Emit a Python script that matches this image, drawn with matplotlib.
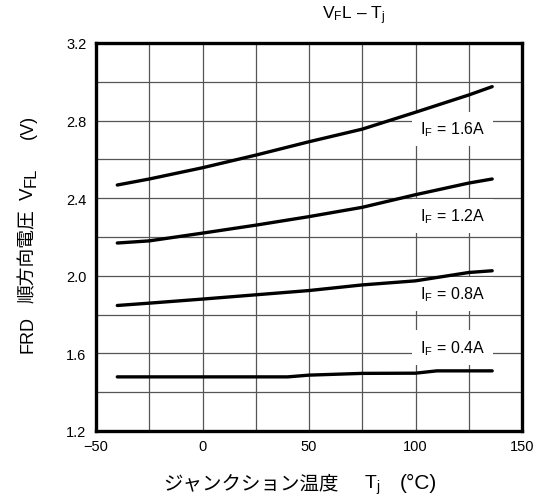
import numpy as np
import matplotlib
matplotlib.use("Agg")
import matplotlib.pyplot as plt
from matplotlib.ticker import MultipleLocator

plt.rcParams["font.family"] = ["Liberation Sans", "Noto Sans CJK JP"]
plt.rcParams["mathtext.fontset"] = "custom"
plt.rcParams["mathtext.rm"] = "Liberation Sans"
plt.rcParams["mathtext.it"] = "Liberation Sans:italic"

# Curvas V_FL x Tj para cada corrente I_F
tj = [-40, -25, 0, 25, 50, 75, 100, 125, 136]
vfl_16 = [2.468, 2.499, 2.557, 2.622, 2.691, 2.756, 2.843, 2.932, 2.975]
vfl_12 = [2.169, 2.180, 2.220, 2.261, 2.305, 2.353, 2.418, 2.478, 2.499]
vfl_08 = [1.847, 1.859, 1.880, 1.902, 1.924, 1.953, 1.974, 2.017, 2.026]
tj_04 = [-40, 40, 50, 75, 100, 110, 136]
vfl_04 = [1.479, 1.479, 1.488, 1.497, 1.498, 1.510, 1.510]

rotulos = ["I$_\\mathrm{F}$ = 1.6A", "I$_\\mathrm{F}$ = 1.2A",
           "I$_\\mathrm{F}$ = 0.8A", "I$_\\mathrm{F}$ = 0.4A"]
rotulo_y = [2.756, 2.309, 1.906, 1.631]
rotulo_x = 102

W, H = 537, 502
fig = plt.figure(figsize=(W / 100, H / 100), dpi=100)
ax = fig.add_axes([96 / W, 1 - 432 / H, 426 / W, 388 / H])

for x, y in [(tj, vfl_16), (tj, vfl_12), (tj, vfl_08), (tj_04, vfl_04)]:
    ax.plot(x, y, color="black", lw=2.4, solid_capstyle="round", zorder=4)

for txt, y in zip(rotulos, rotulo_y):
    ax.text(rotulo_x, y, txt, fontsize=11.5, va="center", ha="left", zorder=3,
            bbox=dict(boxstyle="square,pad=0.5", fc="white", ec="none"))

ax.set_xlim(-50, 150)
ax.set_ylim(1.2, 3.2)
ax.xaxis.set_minor_locator(MultipleLocator(25))
ax.yaxis.set_minor_locator(MultipleLocator(0.2))
ax.set_xticks([-50, 0, 50, 100, 150])
ax.set_xticklabels(["\u221250", "0", "50", "100", "150"])
ax.set_yticks([1.2, 1.6, 2.0, 2.4, 2.8, 3.2])
ax.set_yticklabels(["1.2", "1.6", "2.0", "2.4", "2.8", "3.2"])
ax.tick_params(which="both", length=0, labelsize=10.5)
ax.tick_params(axis="x", pad=6)
ax.tick_params(axis="y", pad=7)
ax.grid(which="both", color="#555555", lw=0.9, zorder=1)
ax.set_axisbelow(True)
for s in ax.spines.values():
    s.set_linewidth(2.4)
    s.set_zorder(5)

# titulo
fig.text(354 / W, 1 - 16 / H, "V$_\\mathrm{F}$L \u2013 T$_\\mathrm{j}$",
         fontsize=12.5, ha="center", va="center")

# rotulo do eixo x em pedacos (o mathtext nao tem glifos japoneses)
base_x = 1 - 489 / H
fig.text(163 / W, base_x, "ジャンクション温度", fontsize=14,
         family="Noto Sans CJK JP", va="baseline", ha="left")
fig.text(364 / W, base_x, "T$_\\mathrm{j}$", fontsize=14, va="baseline", ha="left")
fig.text(400 / W, base_x, "(°C)", fontsize=15, va="baseline", ha="left")

# rotulo do eixo y, de baixo para cima
base_y = 33 / W
kw = dict(rotation=90, rotation_mode="anchor", ha="left", va="baseline")
fig.text(base_y, 1 - 353 / H, "FRD", fontsize=13, **kw)
fig.text(base_y, 1 - 303 / H, "順方向電圧", fontsize=13.5,
         family="Noto Sans CJK JP", **kw)
fig.text(base_y, 1 - 200 / H, "V", fontsize=13.5, **kw)
fig.text(base_y + 3 / W, 1 - 187 / H, "FL", fontsize=12, **kw)
fig.text(base_y, 1 - 139 / H, "(V)", fontsize=13, **kw)

fig.savefig("out.png", dpi=100)
